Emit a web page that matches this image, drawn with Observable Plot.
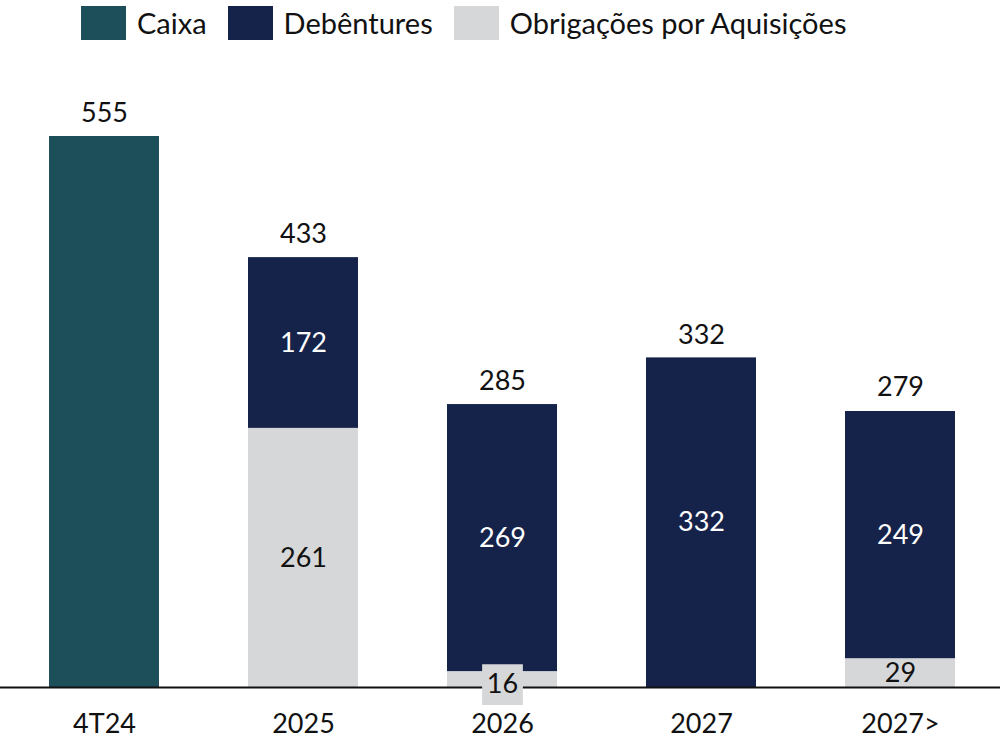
<!DOCTYPE html>
<html>
<head>
<meta charset="utf-8">
<script src="https://cdn.jsdelivr.net/npm/d3@7"></script>
<script src="https://cdn.jsdelivr.net/npm/@observablehq/plot@0.6"></script>
<style>
  body { margin: 0; background: #fff; font-family: Lato, "Open Sans", sans-serif; }
  #legend { height: 48px; display: flex; align-items: flex-start; padding-left: 81px; box-sizing: border-box; }
  .item { display: flex; align-items: center; margin-top: 6px; margin-right: 21px; }
  .sw { width: 45px; height: 34px; margin-right: 11px; }
  .lab { font-size: 29px; color: #111; line-height: 34px; }
</style>
</head>
<body>
<div id="legend"></div>
<div id="chart"></div>
<script>
const categories = ["4T24", "2025", "2026", "2027", "2027>"];
const seriesNames = ["Caixa", "Debêntures", "Obrigações por Aquisições"];
const caixa = [555, 0, 0, 0, 0];
const debentures = [0, 172, 269, 332, 249];
const obrigacoes = [0, 261, 16, 0, 29];
const totals = [555, 433, 285, 332, 279];
const colors = ["#1c4f5a", "#15234a", "#d6d7d9"];
const textColors = ["#ffffff", "#ffffff", "#111111"];

// legend
const legend = document.getElementById("legend");
seriesNames.forEach((s, i) => {
  const it = document.createElement("div");
  it.className = "item";
  it.innerHTML = `<div class="sw" style="background:${colors[i]}"></div><span class="lab">${s}</span>`;
  legend.appendChild(it);
});

// long table: bottom-to-top stacking order Obrigações, Debêntures, Caixa
const order = [2, 1, 0];
const valuesBy = [caixa, debentures, obrigacoes];
const rows = [];
categories.forEach((c, ci) => {
  order.forEach(si => {
    const v = valuesBy[si][ci];
    if (v > 0) rows.push({cat: c, series: seriesNames[si], si, value: v, order: order.indexOf(si)});
  });
});
// compute midpoints for labels
const mids = [];
categories.forEach(c => {
  let acc = 0;
  rows.filter(r => r.cat === c).sort((a, b) => a.order - b.order).forEach(r => {
    mids.push({...r, mid: acc + r.value / 2});
    acc += r.value;
  });
});
const inner = mids.filter(r => r.si !== 0);
const small = inner.filter(r => r.value < 20);
const normal = inner.filter(r => r.value >= 20);
const totalRows = categories.map((c, i) => ({cat: c, total: totals[i], top: Math.max(totals[i], caixa[i] + debentures[i] + obrigacoes[i])}));

const chart = Plot.plot({
  width: 1000,
  height: 694,
  marginLeft: 5,
  marginRight: 0,
  marginTop: 88,
  marginBottom: 55,
  style: {fontFamily: "Lato, 'Open Sans', sans-serif", background: "#fff", color: "#111"},
  x: {domain: categories, paddingInner: 0.447, paddingOuter: 0.2235, label: null},
  y: {domain: [0, 555], axis: null},
  color: {domain: seriesNames, range: colors},
  marks: [
    Plot.barY(rows, Plot.stackY({x: "cat", y: "value", fill: "series", order: "order"})),
    Plot.ruleY([0], {stroke: "#111", strokeWidth: 2, insetLeft: -5}),
    Plot.dot(small, {x: "cat", y: "mid", symbol: "square", r: 23, dy: 5, fill: colors[2]}),
    Plot.text(small, {x: "cat", y: "mid", text: d => String(d.value), dy: 5, fill: d => textColors[d.si], fontSize: 27}),
    Plot.text(normal, {x: "cat", y: "mid", text: d => String(d.value), fill: d => textColors[d.si], fontSize: 27}),
    Plot.text(totalRows, {x: "cat", y: "top", text: d => String(d.total), dy: -23, fontSize: 27, fill: "#111"}),
    Plot.axisX({tickSize: 0, tickPadding: 26, fontSize: 27, label: null, color: "#111"})
  ]
});
document.getElementById("chart").appendChild(chart);
</script>
</body>
</html>
